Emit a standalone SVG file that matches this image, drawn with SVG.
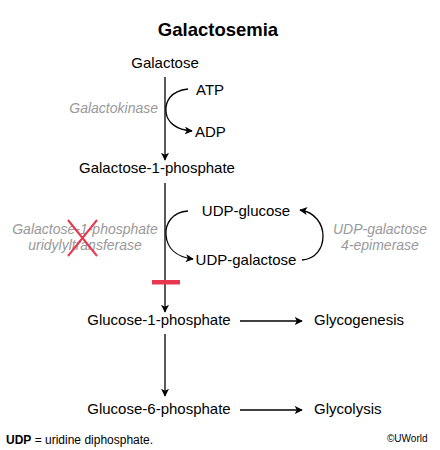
<svg xmlns="http://www.w3.org/2000/svg" width="440" height="450" viewBox="0 0 440 450">
<style>
text{font-family:"Liberation Sans",Arial,sans-serif;fill:#000}
.t{font-size:15px}
.c{text-anchor:middle}
.e{font-size:14px;font-style:italic;fill:#999}
.l{fill:none;stroke:#000;stroke-width:1.3}
</style>
<defs>
<marker id="a" viewBox="0 0 10 10" refX="9" refY="5" markerWidth="8" markerHeight="8" markerUnits="userSpaceOnUse" orient="auto"><path d="M0,0L10,5L0,10L2.5,5Z" fill="#000"/></marker>
</defs>
<rect width="440" height="450" fill="#fff"/>
<text x="218" y="36" class="c" style="font-size:18.5px;font-weight:bold">Galactosemia</text>
<g id="galactose"><text x="165" y="68" class="t c">Galactose</text></g>
<g id="atp"><text x="196" y="95" class="t">ATP</text></g>
<g id="adp"><text x="195" y="137" class="t">ADP</text></g>
<g id="galactokinase"><text x="158" y="113" class="e" text-anchor="end">Galactokinase</text></g>
<g id="gal1p"><text x="157" y="173" class="t c">Galactose-1-phosphate</text></g>
<g id="udpglc"><text x="246" y="216" class="t c">UDP-glucose</text></g>
<g id="udpgal"><text x="246" y="265" class="t c">UDP-galactose</text></g>
<g id="galt"><text x="85" y="234" class="e c">Galactose-1-phosphate</text><text x="85" y="250" class="e c">uridylyltransferase</text>
<path d="M68,220L97,256M97,220L68,256" stroke="#e8384f" stroke-width="2" fill="none"/></g>
<g id="epimerase"><text x="380" y="234" class="e c">UDP-galactose</text><text x="380" y="250" class="e c">4-epimerase</text></g>
<g id="glc1p"><text x="159" y="325" class="t c">Glucose-1-phosphate</text></g>
<g id="glycogenesis"><text x="314" y="325" class="t">Glycogenesis</text></g>
<g id="glc6p"><text x="159" y="414" class="t c">Glucose-6-phosphate</text></g>
<g id="glycolysis"><text x="314" y="414" class="t">Glycolysis</text></g>
<g id="connectors">
<path class="l" d="M165,77V160" marker-end="url(#a)"/>
<path class="l" d="M188,89C170,91 165,102 166,112C167,122 176,130 192,131" marker-end="url(#a)"/>
<path class="l" d="M165,183V312" marker-end="url(#a)"/>
<path class="l" d="M188,211C172,212 165,224 166,235C167,248 176,257 193,259" marker-end="url(#a)"/>
<path class="l" d="M302,260C316,259 323,248 323,236C323,224 315,212 300,210" marker-end="url(#a)"/>
<rect x="152" y="280" width="28" height="4.5" fill="#e8384f"/>
<path class="l" d="M240,321H302" marker-end="url(#a)"/>
<path class="l" d="M165,334V396" marker-end="url(#a)"/>
<path class="l" d="M240,410H302" marker-end="url(#a)"/>
</g>
<text x="6" y="444" style="font-size:12px"><tspan font-weight="bold">UDP</tspan> = uridine diphosphate.</text>
<text x="387" y="442" style="font-size:10px">©UWorld</text>
</svg>
